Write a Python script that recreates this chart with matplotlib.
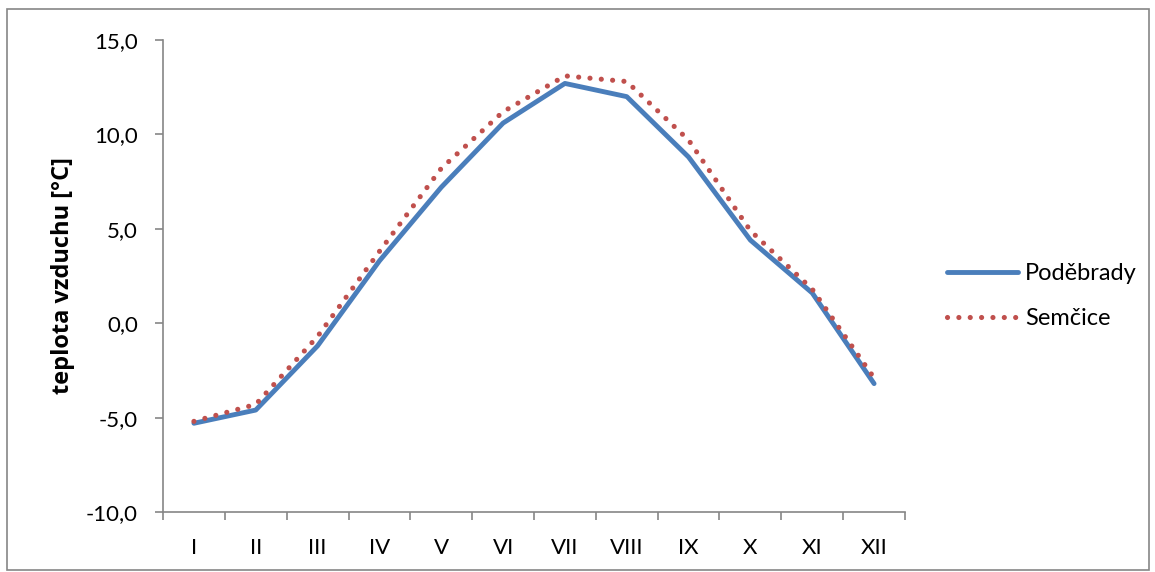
import matplotlib
matplotlib.use("Agg")
import matplotlib.pyplot as plt
from matplotlib.patches import Rectangle

months = ["I", "II", "III", "IV", "V", "VI", "VII", "VIII", "IX", "X", "XI", "XII"]
podebrady = [-5.3, -4.6, -1.2, 3.3, 7.2, 10.6, 12.7, 12.0, 8.8, 4.4, 1.6, -3.2]
semcice = [-5.2, -4.3, -0.7, 3.8, 8.2, 11.2, 13.1, 12.8, 9.7, 4.9, 1.8, -2.9]
yticks = [-10, -5, 0, 5, 10, 15]

plt.rcParams['font.family'] = ['Lato', 'DejaVu Sans']

fig = plt.figure(figsize=(11.55, 5.72), dpi=100)
ax = fig.add_axes([163/1155, 1 - 512/572, (905-163)/1155, (512-40)/572])

x = list(range(len(months)))
ax.plot(x, podebrady, color="#4A7EBB", lw=3.5, solid_capstyle="round",
        solid_joinstyle="round", label="Poděbrady")
ax.plot(x, semcice, color="#C0504D", lw=3.7, linestyle=(0, (0.01, 2.2)),
        dash_capstyle="round", label="Semčice")

ax.set_xlim(-0.5, len(months) - 0.5)
ax.set_ylim(-10, 15)
ax.set_yticks(yticks)
ax.set_yticklabels([f"{v:.1f}".replace(".", ",") for v in yticks])
ax.set_xticks([i + 0.5 for i in range(-1, len(months))], minor=False)
ax.set_xticklabels([])
ax.set_xticks(x, minor=True)
ax.set_xticklabels(months, minor=True)
ax.tick_params(axis="x", which="major", length=6, width=1.2, color="#868686", direction="out")
ax.tick_params(axis="x", which="minor", length=0, labelsize=16, pad=19)
ax.tick_params(axis="y", length=6, width=1.2, color="#868686", direction="out",
               labelsize=16, pad=12)

for s in ["top", "right"]:
    ax.spines[s].set_visible(False)
for s in ["left", "bottom"]:
    ax.spines[s].set_color("#868686")
    ax.spines[s].set_linewidth(1.2)

ax.set_ylabel("teplota vzduchu [°C]", fontsize=17, fontweight="bold", labelpad=8,
              family=["Open Sans", "DejaVu Sans"])

fig.legend(loc="center left", bbox_to_anchor=(947/1155, 1 - 296/572), frameon=False,
           fontsize=17, handlelength=3.0, handletextpad=0.3, labelspacing=1.0,
           borderpad=0, borderaxespad=0)

fig.patches.append(Rectangle((7/1155, 2/572), 1142/1155, 561/572, transform=fig.transFigure,
                             fill=False, edgecolor="#868686", lw=1.2))

fig.savefig("out.png", dpi=100)
